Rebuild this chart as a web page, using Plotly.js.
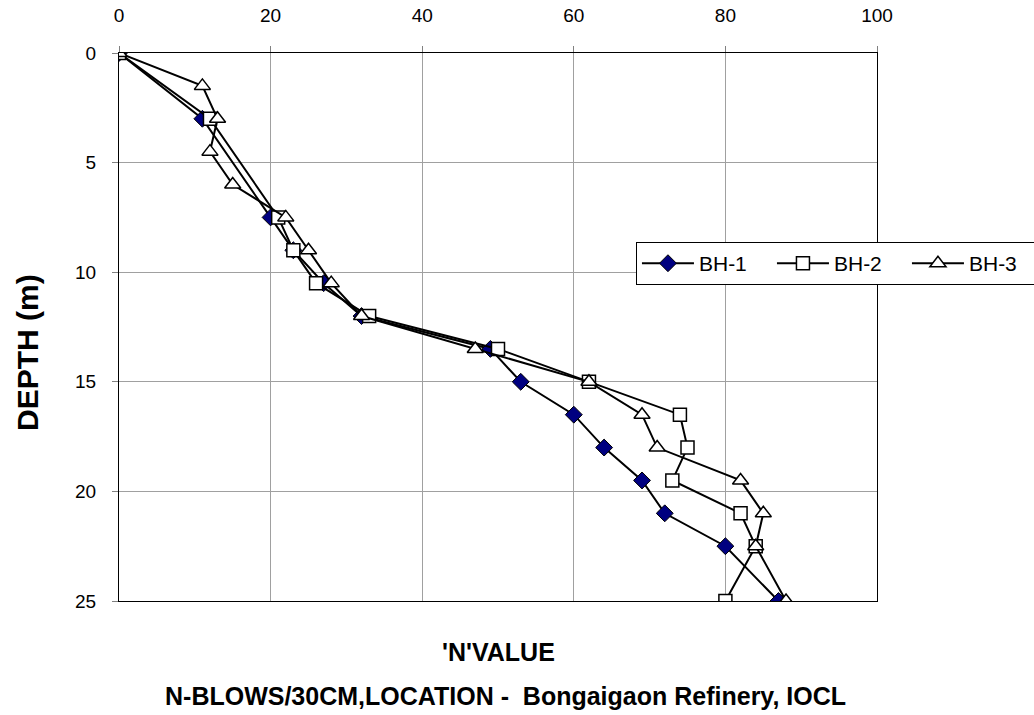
<!DOCTYPE html>
<html>
<head>
<meta charset="utf-8">
<script src="https://cdn.plot.ly/plotly-3.0.1.min.js"></script>
<style>
html,body{margin:0;padding:0;background:#fff;}
#chart{width:1034px;height:715px;}
</style>
</head>
<body>
<div id="chart"></div>
<script>
const depthBH1 = [0, 3, 7.5, 9, 10.5, 12, 13.5, 15, 16.5, 18, 19.5, 21, 22.5, 25];
const nBH1     = [0, 11, 20, 23, 27, 32, 49, 53, 60, 64, 69, 72, 80, 87];
const depthBH2 = [0, 3, 7.5, 9, 10.5, 12, 13.5, 15, 16.5, 18, 19.5, 21, 22.5, 25];
const nBH2     = [0, 12, 21, 23, 26, 33, 50, 62, 74, 75, 73, 82, 84, 80];
const depthBH3 = [0, 1.5, 3, 4.5, 6, 7.5, 9, 10.5, 12, 13.5, 15, 16.5, 18, 19.5, 21, 22.5, 25];
const nBH3     = [0, 11, 13, 12, 15, 22, 25, 28, 32, 47, 62, 69, 71, 82, 85, 84, 88];
const seriesNames = ['BH-1', 'BH-2', 'BH-3'];
const xTicks = [0, 20, 40, 60, 80, 100];
const yTicks = [0, 5, 10, 15, 20, 25];
const yTitle = 'DEPTH (m)';
const xTitle = "'N'VALUE";
const subTitle = 'N-BLOWS/30CM,LOCATION -  Bongaigaon Refinery, IOCL';

const font = 'Liberation Sans, Arial, sans-serif';
const traces = [
  {x: nBH1, y: depthBH1, name: seriesNames[0], mode: 'lines+markers',
   line: {color: '#000', width: 2},
   marker: {symbol: 'diamond', size: 13, color: '#000080', line: {color: '#000', width: 1}}},
  {x: nBH2, y: depthBH2, name: seriesNames[1], mode: 'lines+markers',
   line: {color: '#000', width: 2},
   marker: {symbol: 'square', size: 13, color: '#fff', line: {color: '#000', width: 1.5}}},
  {x: nBH3, y: depthBH3, name: seriesNames[2], mode: 'lines+markers',
   line: {color: '#000', width: 2},
   marker: {symbol: 'triangle-up', size: 14, color: '#fff', line: {color: '#000', width: 1.5}}}
];

const layout = {
  width: 1034, height: 715,
  margin: {l: 119, r: 157, t: 53, b: 114, autoexpand: false},
  paper_bgcolor: '#fff', plot_bgcolor: '#fff',
  font: {family: font, size: 19, color: '#000'},
  showlegend: true,
  legend: {
    orientation: 'h', x: 0.682, y: 0.655, xanchor: 'left', yanchor: 'top',
    bordercolor: '#000', borderwidth: 1, bgcolor: '#fff',
    font: {family: font, size: 21, color: '#000'},
    itemwidth: 52,
    entrywidth: 68, entrywidthmode: 'pixels'
  },
  xaxis: {
    side: 'top', range: [0, 100], tickvals: xTicks, ticktext: xTicks.map(String),
    showgrid: true, gridcolor: '#a0a0a0', gridwidth: 1,
    showline: true, linecolor: '#000', linewidth: 1, mirror: true,
    ticks: 'outside', ticklen: 6, tickcolor: '#808080',
    ticklabelstandoff: 16,
    zeroline: false, tickfont: {family: font, size: 19}
  },
  yaxis: {
    range: [25, 0], tickvals: yTicks, ticktext: yTicks.map(String),
    showgrid: true, gridcolor: '#a0a0a0', gridwidth: 1,
    showline: true, linecolor: '#000', linewidth: 1, mirror: true,
    ticks: 'outside', ticklen: 6, tickcolor: '#808080',
    ticklabelstandoff: 12,
    zeroline: false, tickfont: {family: font, size: 19}
  },
  annotations: [
    {text: '<b>' + yTitle + '</b>', xref: 'paper', yref: 'paper', x: -0.12, y: 0.4526,
     xanchor: 'center', yanchor: 'middle', textangle: -90, showarrow: false,
     font: {family: font, size: 30, color: '#000'}},
    {text: '<b>' + xTitle + '</b>', xref: 'paper', yref: 'paper', x: 0.5, y: -0.063,
     xanchor: 'center', yanchor: 'top', showarrow: false,
     font: {family: font, size: 25, color: '#000'}},
    {text: '<b>' + subTitle + '</b>', xref: 'paper', yref: 'paper',
     x: 0.51, y: -0.144, xanchor: 'center', yanchor: 'top', showarrow: false,
     font: {family: font, size: 25, color: '#000'}}
  ]
};

Plotly.newPlot('chart', traces, layout, {displayModeBar: false, staticPlot: true});
</script>
</body>
</html>
